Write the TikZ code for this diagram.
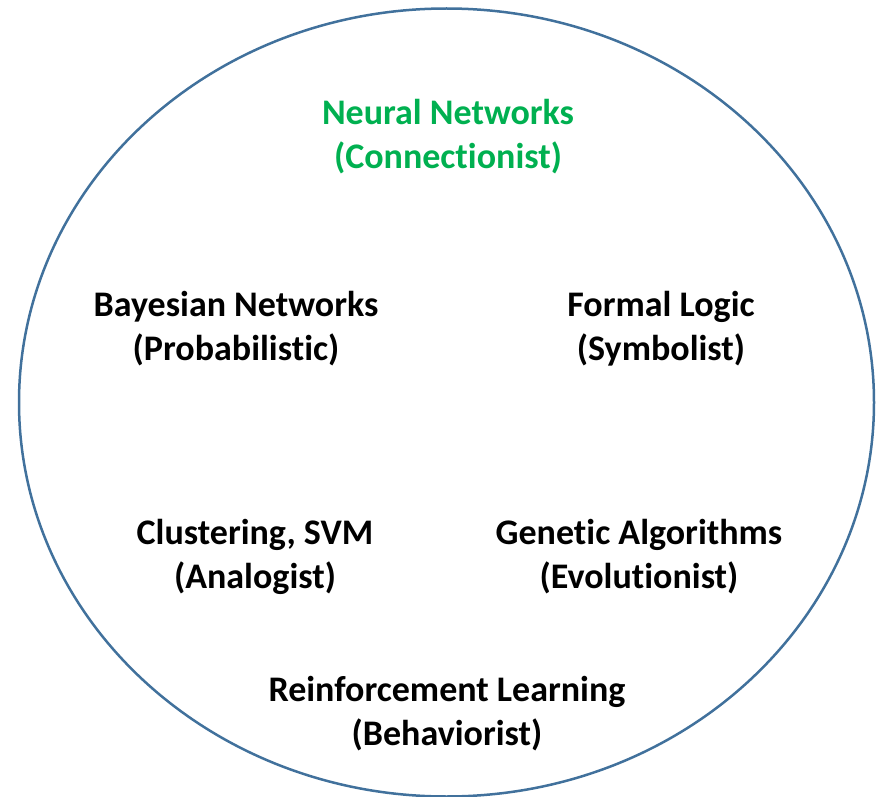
\documentclass[tikz,border=0pt]{standalone}
\usepackage{fontspec}
\setmainfont{Carlito}[Ligatures=NoCommon]
\definecolor{ringblue}{RGB}{65,113,156}
\definecolor{nngreen}{RGB}{0,176,80}
\begin{document}
\begin{tikzpicture}[
    x=1pt, y=-1pt,
    every node/.style={align=center, inner sep=0pt,
      font=\fontsize{36}{44}\selectfont\bfseries},
    tribe/.style={text=black}
  ]
  \useasboundingbox (0,0) rectangle (879,797);
  \draw[ringblue, line width=2.5pt] (446.5,402.5) ellipse [x radius=427.5, y radius=394];
  \node (nn) [text=nngreen] at (448,137) {Neural Networks\\(Connectionist)};
  \node (bn) [tribe] at (236,329) {Bayesian Networks\\(Probabilistic)};
  \node (fl) [tribe] at (661,329) {Formal Logic\\(Symbolist)};
  \node (cl) [tribe] at (255,557) {Clustering, SVM\\(Analogist)};
  \node (ga) [tribe] at (639,557) {Genetic Algorithms\\(Evolutionist)};
  \node (rl) [tribe] at (447,714) {Reinforcement Learning\\(Behaviorist)};
\end{tikzpicture}
\end{document}
